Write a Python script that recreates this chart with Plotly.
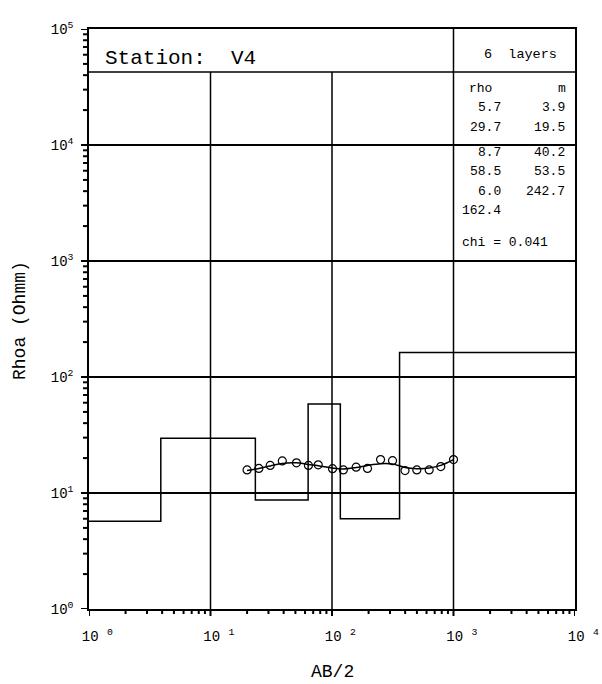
import numpy as np
import plotly.graph_objects as go

# ---- layered earth model (resistivity per layer, thickness per layer) ----
layer_rho = [5.7, 29.7, 8.7, 58.5, 6.0, 162.4]
layer_thick = [3.9, 19.5, 40.2, 53.5, 242.7]
chi = 0.041
station = "V4"

# ---- sounding data: AB/2 spacing and apparent resistivity ----
ab2 = [20, 25, 31, 39, 51, 64, 77, 101, 124, 158, 196, 251, 315, 399, 499, 631, 786, 1000]
rhoa_obs = [15.8, 16.3, 17.3, 18.9, 18.2, 17.3, 17.5, 16.2, 15.8, 16.7, 16.3, 19.4,
            19.0, 15.6, 15.8, 15.8, 16.9, 19.4]
rhoa_fit = [15.6, 16.3, 17.1, 18.0, 18.2, 17.6, 17.2, 16.4, 16.1, 16.6, 17.3, 17.9,
            17.8, 16.6, 16.2, 16.4, 17.3, 19.4]

# axis decades and labels
x_decades = [1, 10, 100, 1000, 10000]
x_ticktext = ["\u00a0\u00a010\u00a0<sup>%d</sup>" % i for i in range(5)]
y_decades = [1, 10, 100, 1000, 10000, 100000]
y_ticktext = ["10<sup>%d</sup>" % i for i in range(6)]
X_RANGE = [0, 4]
Y_RANGE = [0, 5]


def minor_vals(decades):
    return [d * k for d in decades[:-1] for k in range(2, 10)]


FONT = "Liberation Mono"
W, H = 602, 684
# main frame in pixels: x 89..575, y 29..609; tick strips of 9 px (left), 7 px (bottom)
FX0, FX1, FY0, FY1 = 89, 575, 29, 609
SL, SB = 9, 7
L, R, T, B = FX0 - SL, W - FX1, FY0, H - FY1 - SB
PW, PH = W - L - R, H - T - B
dom_x = [SL / PW, 1.0]
dom_y = [SB / PH, 1.0]


def px(xp):
    return (xp - FX0) / (FX1 - FX0)


def py(yp):
    return (FY1 - yp) / (FY1 - FY0)


def frac(v, rng):
    return (np.log10(v) - rng[0]) / (rng[1] - rng[0])


def to_paper_x(f):
    return dom_x[0] + f * (dom_x[1] - dom_x[0])


def to_paper_y(f):
    return dom_y[0] + f * (dom_y[1] - dom_y[0])


# model as a step curve: boundaries at cumulative depths
depths = np.cumsum(layer_thick)
step_x = [1.0] + list(depths) + [10000.0]
step_y = list(layer_rho) + [layer_rho[-1]]

fig = go.Figure()
fig.add_trace(go.Scatter(x=step_x, y=step_y, mode="lines", line_shape="hv",
                         line=dict(color="black", width=1.5), hoverinfo="skip"))
fig.add_trace(go.Scatter(x=ab2, y=rhoa_fit, mode="lines", line_shape="spline",
                         line=dict(color="black", width=1.5)))
fig.add_trace(go.Scatter(x=ab2, y=rhoa_obs, mode="markers",
                         marker=dict(symbol="circle-open", size=8, color="black",
                                     line=dict(width=1.2))))

# tick marks live in thin strip subplots beside the bottom and left axes
tx, ty = [], []
for v in x_decades:
    tx += [v, v, None]
    ty += [1, 0, None]
for v in minor_vals(x_decades):
    tx += [v, v, None]
    ty += [1, 1 - 5.0 / SB, None]
fig.add_trace(go.Scatter(x=tx, y=ty, mode="lines", xaxis="x2", yaxis="y2",
                         line=dict(color="black", width=2), hoverinfo="skip"))
ux, uy = [], []
for v in y_decades:
    ux += [1, 1 - 8.0 / SL, None]
    uy += [v, v, None]
for v in minor_vals(y_decades):
    ux += [1, 1 - 6.0 / SL, None]
    uy += [v, v, None]
fig.add_trace(go.Scatter(x=ux, y=uy, mode="lines", xaxis="x3", yaxis="y3",
                         line=dict(color="black", width=2), hoverinfo="skip"))

band_y = to_paper_y(py(72))
shapes = []
# vertical decade lines (stop at the header band, except the table edge)
for v in x_decades[1:-1]:
    top = 1.0 if v == 1000 else band_y
    xp = to_paper_x(frac(v, X_RANGE))
    shapes.append(dict(type="line", xref="paper", yref="paper", x0=xp, x1=xp,
                       y0=dom_y[0], y1=top, line=dict(color="black", width=1.5),
                       layer="below"))
# header band line
shapes.append(dict(type="line", xref="paper", yref="paper", x0=dom_x[0], x1=1,
                   y0=band_y, y1=band_y, line=dict(color="black", width=1.5)))

ann = []


def text(s, xp, yp, size=13, xanchor="left", **kw):
    ann.append(dict(text=s, x=to_paper_x(px(xp)), y=to_paper_y(py(yp)),
                    xref="paper", yref="paper",
                    xanchor=xanchor, yanchor="middle", showarrow=False,
                    font=dict(family=FONT, size=size, color="black"), **kw))


text("Station:  " + station, 103, 58, size=21)
text("6  layers", 520, 55, size=13.5, xanchor="center")
text("rho", 467, 89)
text("m", 562, 89, xanchor="center")
row_y = [107, 127, 152, 172, 191, 211]
for i, r in enumerate(layer_rho):
    text("%.1f" % r, 503, row_y[i], xanchor="right")
    if i < len(layer_thick):
        text("%.1f" % layer_thick[i], 567, row_y[i], xanchor="right")
text("chi = %.3f" % chi, 460, 243)
text("AB/2", 332, 672, size=18, xanchor="center")
text("Rhoa (Ohmm)", 20, 321, size=18, xanchor="center", textangle=-90)

axis_common = dict(type="log", showline=True, linecolor="black", linewidth=1.5,
                   mirror=True, ticks="",
                   tickfont=dict(family=FONT, size=14, color="black"),
                   zeroline=False, automargin=False)
hidden = dict(visible=False, showgrid=False, zeroline=False, fixedrange=True)

fig.update_layout(
    template="none",
    width=W, height=H, autosize=False,
    margin=dict(l=L, r=R, t=T, b=B),
    paper_bgcolor="white", plot_bgcolor="rgba(0,0,0,0)",
    showlegend=False,
    shapes=shapes, annotations=ann,
    xaxis=dict(range=X_RANGE, domain=dom_x, tickmode="array", tickvals=x_decades,
               ticktext=x_ticktext, showgrid=False, ticklabelstandoff=13,
               **axis_common),
    yaxis=dict(range=Y_RANGE, domain=dom_y, tickmode="array", tickvals=y_decades,
               ticktext=y_ticktext, showgrid=True, gridcolor="black", gridwidth=1.5,
               ticklabelstandoff=11, **axis_common),
    xaxis2=dict(type="log", range=X_RANGE, domain=dom_x, anchor="y2", **hidden),
    yaxis2=dict(range=[0, 1], domain=[0, dom_y[0]], anchor="x2", **hidden),
    xaxis3=dict(range=[0, 1], domain=[0, dom_x[0]], anchor="y3", **hidden),
    yaxis3=dict(type="log", range=Y_RANGE, domain=dom_y, anchor="x3", **hidden),
)

fig.write_html("out.html", config={"responsive": False})
